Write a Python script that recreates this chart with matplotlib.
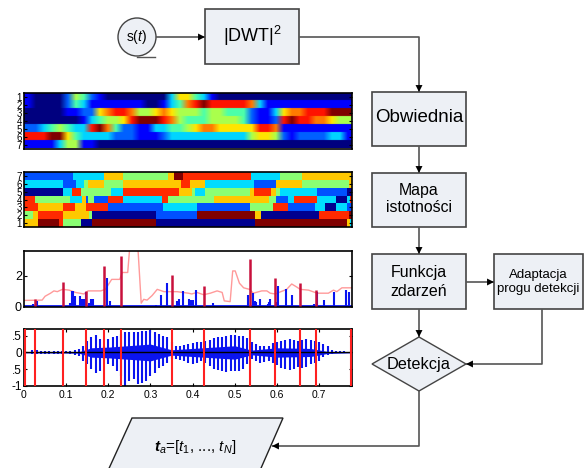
import matplotlib
matplotlib.use('Agg')
import matplotlib.pyplot as plt
import numpy as np
from matplotlib.colors import ListedColormap
from matplotlib.patches import Circle, Polygon, Rectangle

plt.rcParams['font.family'] = ['Liberation Sans', 'DejaVu Sans']
plt.rcParams['mathtext.fontset'] = 'custom'
plt.rcParams['mathtext.rm'] = 'Liberation Sans'
plt.rcParams['mathtext.it'] = 'Liberation Sans:italic'
plt.rcParams['mathtext.bf'] = 'Liberation Sans:bold'
plt.rcParams['mathtext.bfit'] = 'Liberation Sans:italic:bold'

W, H = 588, 468

# envelope map, levels 0-9, one list per scale
env1 = [1,0,0,0,0,2,5,4,2,1,0,0,0,0,0,0,0,0,3,6,6,4,3,1,0,0,0,0,0,0,0,0,0,0,0,0,0,0,0,0,0]
env2 = [1,0,0,0,0,2,4,3,1,1,1,1,1,1,1,0,0,1,3,4,7,8,9,8,8,8,8,8,7,3,1,1,1,1,1,1,1,1,1,1,1]
env3 = [0,0,0,0,0,1,1,2,2,6,7,8,8,7,5,5,6,7,6,5,5,5,4,5,5,4,4,4,2,1,1,3,6,7,7,8,8,8,9,9,9]
env4 = [0,0,0,0,0,0,0,1,3,4,5,5,6,8,9,9,9,8,7,5,4,4,4,5,5,5,5,4,2,1,1,2,8,9,8,8,7,7,6,5,5]
env5 = [2,2,3,4,5,4,3,3,8,9,7,4,2,2,1,1,3,3,4,4,5,6,7,7,6,6,6,6,6,8,8,7,1,1,1,1,1,1,1,1,1]
env6 = [8,8,8,9,9,6,4,3,3,3,3,2,2,2,1,1,1,2,3,3,3,3,3,3,3,3,3,3,5,6,6,5,2,1,2,2,2,2,3,3,1]
env7 = [1,1,1,1,3,5,5,1,1,0,0,0,0,0,0,0,0,0,0,0,0,0,0,0,0,0,0,0,0,0,0,0,0,0,0,0,0,0,0,0,0]

# importance map, rank segments along the signal (top row is scale 7)
rank7_ends = [148,240,297,433,449,478,682,768,835,985]
rank7_vals = [1,2,4,3,4,6,5,2,3,4]
rank6_ends = [118,155,180,192,240,297,470,498,543,692,758,835,975,985]
rank6_vals = [2,1,2,3,4,3,4,5,4,2,1,4,3,4]
rank5_ends = [118,145,170,260,297,465,505,515,543,678,692,743,758,768,880,970,985]
rank5_vals = [0,2,5,3,2,5,4,3,2,3,4,5,4,3,2,1,0]
rank4_ends = [32,137,173,185,191,211,252,297,414,433,571,737,757,793,810,880,936,970,978,985]
rank4_vals = [5,3,2,4,1,3,1,5,2,5,3,4,3,1,2,5,2,0,2,5]
rank3_ends = [43,118,154,185,252,417,519,678,748,793,875,905,936,970,985]
rank3_vals = [5,4,5,4,5,1,2,1,3,5,1,2,0,2,1]
rank2_ends = [28,43,118,195,204,397,519,695,711,885,975,985]
rank2_vals = [3,4,5,4,3,0,1,6,4,0,5,6]
rank1_ends = [43,104,118,170,204,397,695,970,978,985]
rank1_vals = [4,6,5,3,0,6,0,6,4,2]
rank_colors = ['#00008f','#0050ff','#00dcff','#8aff73','#ffc800','#ff2a00','#800000']

# event function
event_t = [.022,.032,.108,.113,.116,.122,.133,.138,.142,.146,.153,.16,.164,.196,.205,.312,.324,.339,.363,.368,.376,.392,.397,.402,.409,.448,.531,.543,.547,.551,.56,.578,.582,.584,.6,.603,.622,.635,.687,.695,.712,.736,.764,.77]
event_v = [.15,.35,.2,1.0,1.0,.65,.65,.5,.5,.95,.2,.5,.5,1.85,.35,.1,.75,1.5,.35,.5,1.0,.5,.4,.4,1.05,.2,.75,.85,.35,.25,.5,.15,.25,.5,.3,1.35,1.1,.75,.15,.95,.4,.9,1.05,.9]

# detected events
onset_t = [.025,.092,.148,.189,.231,.351,.428,.535,.596,.655,.692]
onset_v = [.5,1.56,1.0,2.6,3.3,2.05,1.35,3.1,1.82,1.5,1.05]
marker_t = [.002,.025,.092,.148,.189,.231,.351,.428,.535,.596,.655,.692,.776]

# adaptive threshold
thr_t = [0,.043,.05,.063,.071,.079,.091,.107,.122,.142,.152,.182,.193,.208,.227,.233,.246,.251,.27,.278,.284,.292,.304,.316,.332,.363,.39,.398,.41,.426,.442,.458,.47,.475,.489,.495,.501,.511,.521,.535,.544,.564,.576,.584,.596,.623,.635,.647,.655,.675,.695,.722,.734,.742,.754,.776]
thr_v = [.38,.4,.65,.85,1.0,.95,1.1,1.05,.9,.8,1.0,1.0,1.1,1.75,1.75,2.2,2.2,3.9,3.9,.2,.45,.4,.7,1.1,.95,.95,.85,.8,.9,.75,.85,1.0,.9,.35,.3,2.3,2.3,1.5,1.2,1.1,.85,1.0,1.0,.85,.8,1.1,1.45,1.25,1.1,1.05,.85,.85,1.05,.95,1.2,1.2]

# signal, positive and negative peak of each pitch period
wave_t = [.01,.02,.03,.04,.05,.06,.07,.08,.09,.10,.11,.12,.13,.14,.15,.16,.17,.18,.19,.20,.21,.22,.23,.24,.25,.26,.27,.28,.29,.30,.31,.32,.33,.34,.35,.36,.37,.38,.39,.40,.41,.42,.43,.44,.45,.46,.47,.48,.49,.50,.51,.52,.53,.54,.55,.56,.57,.58,.59,.60,.61,.62,.63,.64,.65,.66,.67,.68,.69,.70,.71,.72,.73,.74,.75,.76]
wave_top = [.02,.06,.06,.05,.05,.05,.05,.05,.05,.03,.05,.07,.1,.2,.35,.45,.52,.4,.2,.4,.45,.5,.55,.6,.6,.62,.62,.63,.63,.68,.6,.55,.5,.45,.3,.2,.2,.22,.25,.28,.3,.3,.33,.38,.42,.45,.47,.5,.52,.52,.5,.48,.42,.3,.25,.2,.18,.2,.28,.32,.35,.38,.4,.38,.35,.38,.4,.38,.35,.3,.25,.18,.08,.04,.03,.03]
wave_bot = [-.02,-.06,-.06,-.06,-.05,-.05,-.06,-.06,-.05,-.03,-.05,-.07,-.1,-.25,-.35,-.5,-.6,-.55,-.2,-.35,-.4,-.55,-.7,-1,-.85,-.8,-.95,-.9,-.85,-.7,-.6,-.45,-.4,-.3,-.2,-.18,-.22,-.25,-.3,-.33,-.3,-.25,-.3,-.4,-.48,-.52,-.55,-.57,-.55,-.55,-.55,-.5,-.35,-.2,-.25,-.3,-.28,-.25,-.3,-.38,-.45,-.5,-.52,-.5,-.42,-.45,-.42,-.35,-.3,-.25,-.15,-.08,-.05,-.03,-.03,-.03]
band_t = [0,.13,.16,.2,.3,.35,.45,.5,.54,.6,.68,.72,.778]
band_v = [.01,.02,.14,.16,.25,.08,.16,.2,.07,.14,.12,.03,.01]

xticks = [0,.1,.2,.3,.4,.5,.6,.7]
xticklabels = ['0','0.1','0.2','0.3','0.4','0.5','0.6','0.7']

def px_axes(l, t, r, b):
    return fig.add_axes([l/W, 1-b/H, (r-l)/W, (b-t)/H])

def style_axes(ax):
    for s in ax.spines.values():
        s.set_linewidth(1.2)
    ax.tick_params(direction='in', top=True, right=True, length=2, width=0.8, pad=1.5)

fig = plt.figure(figsize=(W/100, H/100), dpi=100)

# flow diagram, in pixel coordinates of the picture
bg = fig.add_axes([0, 0, 1, 1])
bg.set_xlim(0, W)
bg.set_ylim(H, 0)
bg.axis('off')

box_fc = '#edf0f5'
box_ec = '#444444'
line_c = '#555555'

def box(x0, y0, x1, y1):
    bg.add_patch(Rectangle((x0, y0), x1-x0, y1-y0, fc=box_fc, ec=box_ec, lw=1.2))

def path(xs, ys, arrow=True):
    bg.plot(xs, ys, c=line_c, lw=1.2, solid_capstyle='butt', zorder=1)
    if arrow:
        bg.annotate('', xy=(xs[-1], ys[-1]), xytext=(xs[-2], ys[-2]),
                    arrowprops=dict(arrowstyle='-|>,head_length=0.5,head_width=0.25',
                                    color='black', lw=0, mutation_scale=10,
                                    shrinkA=0, shrinkB=0), zorder=3)

box(205, 9, 299, 64)
box(372, 92, 466, 146)
box(372, 173, 466, 227)
box(372, 254, 466, 309)
box(494, 254, 583, 309)
bg.add_patch(Circle((137, 37), 19, fc=box_fc, ec=box_ec, lw=1.0))
bg.plot([137, 155], [56.5, 56.5], c=line_c, lw=1.0)
bg.add_patch(Polygon([(372, 364), (419, 337), (466, 364), (419, 391)], fc=box_fc, ec=box_ec, lw=1.0))
bg.add_patch(Polygon([(132, 418), (283, 418), (258, 475), (106, 475)], fc=box_fc, ec='#222222', lw=1.0))

path([156, 205], [37, 37])
path([299, 419, 419], [37, 37, 92])
path([419, 419], [146, 173])
path([419, 419], [227, 254])
path([419, 419], [309, 337])
path([466, 494], [282, 282])
path([542, 542, 466], [309, 364, 364])
path([419, 419, 272], [391, 446, 446])

bg.text(137, 37, 's($\\mathit{t}$)', ha='center', va='center', fontsize=10)
bg.text(252, 36, '|DWT|$^{2}$', ha='center', va='center', fontsize=13)
bg.text(419, 118, 'Obwiednia', ha='center', va='center', fontsize=13.5)
bg.text(419, 199, 'Mapa\nistotności', ha='center', va='center', fontsize=11.4, linespacing=1.25)
bg.text(419, 282, 'Funkcja\nzdarzeń', ha='center', va='center', fontsize=11.5, linespacing=1.25)
bg.text(538, 282, 'Adaptacja\nprogu detekcji', ha='center', va='center', fontsize=9.5, linespacing=1.3)
bg.text(419, 364, 'Detekcja', ha='center', va='center', fontsize=11.7)
bg.text(195, 447, '$\\mathbfit{t}_{\\mathit{a}}$=[$\\mathit{t}_{1}$, ..., $\\mathit{t}_{N}$]',
        ha='center', va='center', fontsize=11)

# envelope map, repeat rows so bilinear only blurs along time
ax1 = px_axes(24, 93, 352, 148.5)
env = np.repeat(np.array([env1, env2, env3, env4, env5, env6, env7]), 10, axis=0)
ax1.imshow(env, cmap='jet', vmin=0, vmax=9, aspect='auto', interpolation='bilinear',
           extent=[0, 985, 7.5, 0.5])
ax1.set_yticks(range(1, 8))
ax1.set_xticks([])
style_axes(ax1)
ax1.tick_params(axis='y', labelsize=7)

# importance map
ax2 = px_axes(24, 172, 352, 227)
rank_rows = [(rank1_ends, rank1_vals), (rank2_ends, rank2_vals), (rank3_ends, rank3_vals),
             (rank4_ends, rank4_vals), (rank5_ends, rank5_vals), (rank6_ends, rank6_vals),
             (rank7_ends, rank7_vals)]
cmap = ListedColormap(rank_colors)
for i, (ends, vals) in enumerate(rank_rows):
    edges = np.array([0] + ends)
    ax2.pcolormesh(edges, [i+0.5, i+1.5], np.array([vals]), cmap=cmap, vmin=-0.5, vmax=6.5)
ax2.set_xlim(0, 985)
ax2.set_ylim(0.5, 7.5)
ax2.set_yticks(range(1, 8))
ax2.set_xticks([])
style_axes(ax2)
ax2.tick_params(axis='y', labelsize=7)

# event function and threshold
ax3 = px_axes(24, 251, 352, 307)
ax3.plot(thr_t, thr_v, c='#ff9a9a', lw=1.0, zorder=1)
ax3.vlines(event_t, 0, event_v, color='#0a14f0', lw=1.5, zorder=2)
ax3.axhline(0.02, c='#0a14f0', lw=2, zorder=2)
ax3.vlines(onset_t, 0, onset_v, color='#c8103c', lw=1.8, zorder=3)
ax3.set_xlim(0, 0.778)
ax3.set_ylim(-0.05, 3.6)
ax3.set_xticks([])
ax3.set_yticks([0, 2])
style_axes(ax3)
ax3.tick_params(axis='y', labelsize=9)

# signal with detected onsets
ax4 = px_axes(24, 329, 352, 386)
ax4.fill_between(band_t, -np.array(band_v), band_v, color='#0a14f0', lw=0, zorder=1)
ax4.vlines(wave_t, wave_bot, wave_top, color='#0a14f0', lw=1.5, zorder=2)
ax4.axhline(0, c='black', lw=1.0, zorder=3)
ax4.vlines(marker_t, -1, 0.7, color='#ff2020', lw=1.5, zorder=4)
ax4.set_xlim(0, 0.778)
ax4.set_ylim(-1, 0.7)
ax4.set_xticks(xticks)
ax4.set_xticklabels(xticklabels, fontsize=7.5)
ax4.set_yticks([0.5, 0, -0.5, -1])
ax4.set_yticklabels(['.5', '0', '.5', '-1'], fontsize=8.5)
style_axes(ax4)
ax4.tick_params(axis='x', pad=3)

plt.savefig('out.png', dpi=100)
